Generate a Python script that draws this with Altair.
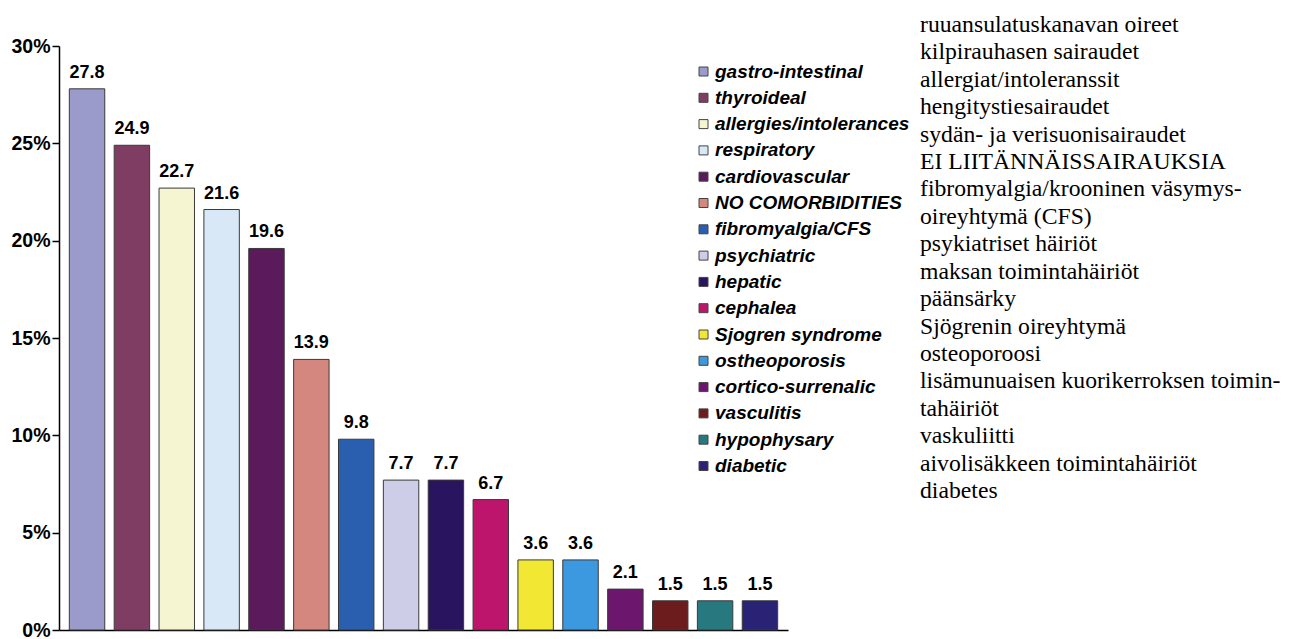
import altair as alt
import pandas as pd

# Comorbidity categories (English legend labels) and their share of patients, %
categories = [
    "gastro-intestinal", "thyroideal", "allergies/intolerances", "respiratory",
    "cardiovascular", "NO COMORBIDITIES", "fibromyalgia/CFS", "psychiatric",
    "hepatic", "cephalea", "Sjogren syndrome", "ostheoporosis",
    "cortico-surrenalic", "vasculitis", "hypophysary", "diabetic",
]
percentages = [27.8, 24.9, 22.7, 21.6, 19.6, 13.9, 9.8, 7.7, 7.7, 6.7,
               3.6, 3.6, 2.1, 1.5, 1.5, 1.5]
bar_colors = [
    "#9a9acb", "#7f3d63", "#f5f5d2", "#d8e8f6", "#5b1a5c", "#d4877f",
    "#2a5fb0", "#cdcde8", "#28145f", "#bd156c", "#f2e834", "#3c98df",
    "#6c176d", "#6c1c1c", "#28797f", "#2a2274",
]
y_ticks = [0, 5, 10, 15, 20, 25, 30]

# Finnish translations listed beside the chart
finnish_lines = [
    "ruuansulatuskanavan oireet",
    "kilpirauhasen sairaudet",
    "allergiat/intoleranssit",
    "hengitystiesairaudet",
    "sydän- ja verisuonisairaudet",
    "EI LIITÄNNÄISSAIRAUKSIA",
    "fibromyalgia/krooninen väsymys-",
    "oireyhtymä (CFS)",
    "psykiatriset häiriöt",
    "maksan toimintahäiriöt",
    "päänsärky",
    "Sjögrenin oireyhtymä",
    "osteoporoosi",
    "lisämunuaisen kuorikerroksen toimin-",
    "tahäiriöt",
    "vaskuliitti",
    "aivolisäkkeen toimintahäiriöt",
    "diabetes",
]

bars_df = pd.DataFrame({"category": categories, "pct": percentages})
text_df = pd.DataFrame({"row": list(range(len(finnish_lines))), "line": finnish_lines})

SANS = "Liberation Sans"

y_scale = alt.Scale(domain=[0, 30], nice=False)
y_axis = alt.Axis(
    values=y_ticks, labelExpr="datum.value + '%'", title=None, grid=False,
    labelFont=SANS, labelFontSize=19.5, labelFontWeight="bold", labelColor="black",
    labelPadding=2, tickSize=7, tickColor="black", tickWidth=1.5,
    domainColor="black", domainWidth=1.5)

bars = alt.Chart(bars_df).mark_bar(stroke="#3a3a3a", strokeWidth=1).encode(
    x=alt.X("category:N", sort=categories, axis=alt.Axis(
        labels=False, ticks=False, title=None, domainColor="black", domainWidth=1.5),
        scale=alt.Scale(paddingInner=0.21, paddingOuter=0.23)),
    y=alt.Y("pct:Q", scale=y_scale, axis=y_axis),
    color=alt.Color("category:N", sort=categories,
                    scale=alt.Scale(domain=categories, range=bar_colors),
                    legend=alt.Legend(
                        title=None, orient="none", legendX=635, legendY=16,
                        symbolType="square", symbolSize=81,
                        symbolStrokeColor="#444", symbolStrokeWidth=1,
                        labelFont=SANS, labelFontSize=19, labelFontWeight="bold",
                        labelFontStyle="italic", labelColor="black",
                        labelOffset=2, rowPadding=6.3, padding=0,
                        labelLimit=400)),
)

labels = alt.Chart(bars_df).mark_text(
    font=SANS, fontSize=18, fontWeight="bold", color="black",
    baseline="alphabetic", dy=-11,
).encode(
    x=alt.X("category:N", sort=categories),
    y=alt.Y("pct:Q", scale=y_scale),
    text=alt.Text("pct:Q", format=".1f"),
)

finnish = alt.Chart(text_df).mark_text(
    font="Liberation Serif", fontSize=23.7, color="black",
    align="left", baseline="middle",
).encode(
    x=alt.value(861),
    y=alt.Y("row:Q", scale=alt.Scale(domain=[0, 17], range=[-21, 445]), axis=None),
    text="line:N",
)

chart = alt.layer(alt.layer(bars, labels), finnish).resolve_scale(
    y="independent"
).properties(
    width=729, height=584,
    padding={"left": 59, "top": 46, "right": 508, "bottom": 9},
    autosize=alt.AutoSizeParams(type="none"),
    background="white",
).configure_view(stroke=None)

chart.save("out.html", embed_options={"renderer": "svg", "actions": False})
